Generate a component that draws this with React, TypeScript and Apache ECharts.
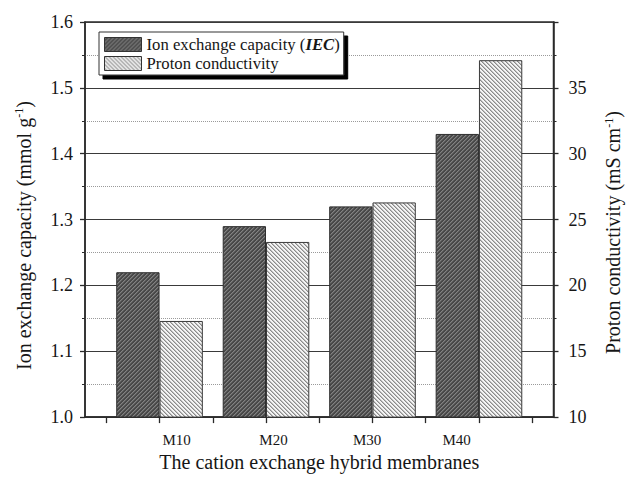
import React, { useEffect, useRef } from "react";
import * as echarts from "echarts";

// Membrane samples and measured properties
const membranes = ["M10", "M20", "M30", "M40"];
const iecValues = [1.22, 1.29, 1.32, 1.43]; // mmol g^-1
const conductivityValues = [17.3, 23.3, 26.3, 37.1]; // mS cm^-1

// Axis ranges and tick settings
const iecRange = [1.0, 1.6];
const iecInterval = 0.1;
const conductivityRange = [10, 40];
const conductivityInterval = 5;
const xRange = [0.3, 4.7];
const xTickValues = [0.5, 1, 1.5, 2, 2.5, 3, 3.5, 4, 4.5];
// label anchors along the sample axis (labels sit a little off the group centres)
const xLabelValues = [1.16, 2.07, 2.95, 3.79];

const FONT = "'Liberation Serif', 'Times New Roman', serif";
const INK = "#161616";

type RGB = [number, number, number];

// Small repeating tile of diagonal hatching; dir = 1 draws "/", dir = -1 draws "\"
function makeHatch(base: RGB, edge: RGB, stripe: RGB, dir: 1 | -1) {
  const size = 8;
  const period = 4;
  const canvas = document.createElement("canvas");
  canvas.width = size;
  canvas.height = size;
  const ctx = canvas.getContext("2d")!;
  const img = ctx.createImageData(size, size);
  for (let y = 0; y < size; y++) {
    for (let x = 0; x < size; x++) {
      const t = dir === 1 ? (x + y) % period : (((x - y) % period) + period) % period;
      const c = t === 0 ? stripe : t === 1 ? edge : base;
      const i = (y * size + x) * 4;
      img.data[i] = c[0];
      img.data[i + 1] = c[1];
      img.data[i + 2] = c[2];
      img.data[i + 3] = 255;
    }
  }
  ctx.putImageData(img, 0, 0);
  return { image: canvas, repeat: "repeat", imageWidth: size, imageHeight: size };
}

export default function App() {
  const ref = useRef<HTMLDivElement>(null);

  useEffect(() => {
    if (!ref.current) return;
    const chart = echarts.init(ref.current, undefined, { renderer: "svg" });

    const iecFill = makeHatch([72, 72, 72], [98, 98, 98], [130, 130, 130], 1);
    const protonFill = makeHatch([244, 244, 244], [190, 190, 190], [138, 138, 138], -1);

    const axisLine = { show: true, lineStyle: { color: "#2a2a2a", width: 1.5 } };
    const supStyle = { fontFamily: FONT, fontSize: 12, color: INK, verticalAlign: "top", padding: [0, 0, 9, 0] };

    chart.setOption({
      animation: false,
      backgroundColor: "#ffffff",
      textStyle: { fontFamily: FONT, color: INK },
      grid: {
        left: 85,
        right: 68,
        top: 22,
        bottom: 58,
        show: true,
        borderColor: "#2a2a2a",
        borderWidth: 1.5,
        backgroundColor: "transparent",
      },
      legend: {
        orient: "vertical",
        left: 99,
        top: 32,
        padding: [4, 4, 3, 5],
        itemGap: 2,
        itemWidth: 37,
        itemHeight: 14,
        icon: "rect",
        backgroundColor: "#ffffff",
        borderColor: "#333333",
        borderWidth: 1,
        shadowColor: "#000000",
        shadowOffsetX: 4,
        shadowOffsetY: 4,
        shadowBlur: 0,
        itemStyle: { borderColor: "#333333", borderWidth: 1 },
        textStyle: {
          fontFamily: FONT,
          fontSize: 16.7,
          color: INK,
          rich: {
            it: { fontFamily: FONT, fontSize: 16.7, color: INK, fontWeight: "bold", fontStyle: "italic" },
          },
        },
        formatter: (name: string) =>
          name === "Ion exchange capacity (IEC)" ? "Ion exchange capacity ({it|IEC})" : name,
        data: ["Ion exchange capacity (IEC)", "Proton conductivity"],
      },
      xAxis: {
        type: "value",
        min: xRange[0],
        max: xRange[1],
        name: "The cation exchange hybrid membranes",
        nameLocation: "middle",
        nameGap: 29,
        nameTextStyle: { fontFamily: FONT, fontSize: 20, color: INK },
        axisLine,
        axisTick: {
          show: true,
          inside: false,
          length: 6,
          customValues: xTickValues,
          lineStyle: { color: "#2a2a2a", width: 1.3 },
        },
        axisLabel: {
          customValues: xLabelValues,
          margin: 15,
          fontFamily: FONT,
          fontSize: 15,
          color: INK,
          formatter: (v: number) => membranes[Math.round(v) - 1] ?? "",
        },
        splitLine: { show: false },
      },
      yAxis: [
        {
          type: "value",
          min: iecRange[0],
          max: iecRange[1],
          interval: iecInterval,
          position: "left",
          name: "Ion exchange capacity (mmol g{sup|-1})",
          nameLocation: "middle",
          nameRotate: 90,
          nameGap: 51,
          nameTextStyle: {
            fontFamily: FONT,
            fontSize: 20,
            color: INK,
            padding: [0, 32, 0, 0],
            rich: { sup: supStyle },
          },
          axisLine,
          axisTick: { show: true, inside: false, length: 5, lineStyle: { color: "#2a2a2a", width: 1.3 } },
          minorTick: { show: true, splitNumber: 2, length: 3, lineStyle: { color: "#2a2a2a", width: 1 } },
          axisLabel: {
            margin: 12,
            fontFamily: FONT,
            fontSize: 18,
            color: INK,
            formatter: (v: number) => v.toFixed(1),
          },
          splitLine: { show: true, lineStyle: { color: "#3a3a3a", width: 1.2 } },
          minorSplitLine: { show: true, lineStyle: { color: "#9a9a9a", width: 1, type: "dotted" } },
        },
        {
          type: "value",
          min: conductivityRange[0],
          max: conductivityRange[1],
          interval: conductivityInterval,
          position: "right",
          name: "Proton conductivity (mS cm{sup|-1})",
          nameLocation: "middle",
          nameRotate: 90,
          nameGap: 49,
          nameTextStyle: {
            fontFamily: FONT,
            fontSize: 20,
            color: INK,
            padding: [0, 26, 0, 0],
            rich: { sup: supStyle },
          },
          axisLine,
          axisTick: { show: true, inside: false, length: 5, lineStyle: { color: "#2a2a2a", width: 1.3 } },
          minorTick: { show: true, splitNumber: 2, length: 3, lineStyle: { color: "#2a2a2a", width: 1 } },
          axisLabel: {
            margin: 15,
            fontFamily: FONT,
            fontSize: 18,
            color: INK,
            showMaxLabel: false,
          },
          splitLine: { show: false },
        },
      ],
      series: [
        {
          name: "Ion exchange capacity (IEC)",
          type: "bar",
          xAxisIndex: 0,
          yAxisIndex: 0,
          barWidth: 43.3,
          barGap: "0%",
          data: iecValues.map((v, i) => [i + 1, v]),
          itemStyle: { color: iecFill, borderColor: "#2e2e2e", borderWidth: 1 },
        },
        {
          name: "Proton conductivity",
          type: "bar",
          xAxisIndex: 0,
          yAxisIndex: 1,
          barWidth: 43.3,
          barGap: "0%",
          data: conductivityValues.map((v, i) => [i + 1, v]),
          itemStyle: { color: protonFill, borderColor: "#3a3a3a", borderWidth: 1 },
        },
      ],
    });

    return () => chart.dispose();
  }, []);

  return (
    <div
      ref={ref}
      style={{ position: "fixed", left: 0, top: 0, width: 631, height: 477 }}
    />
  );
}
